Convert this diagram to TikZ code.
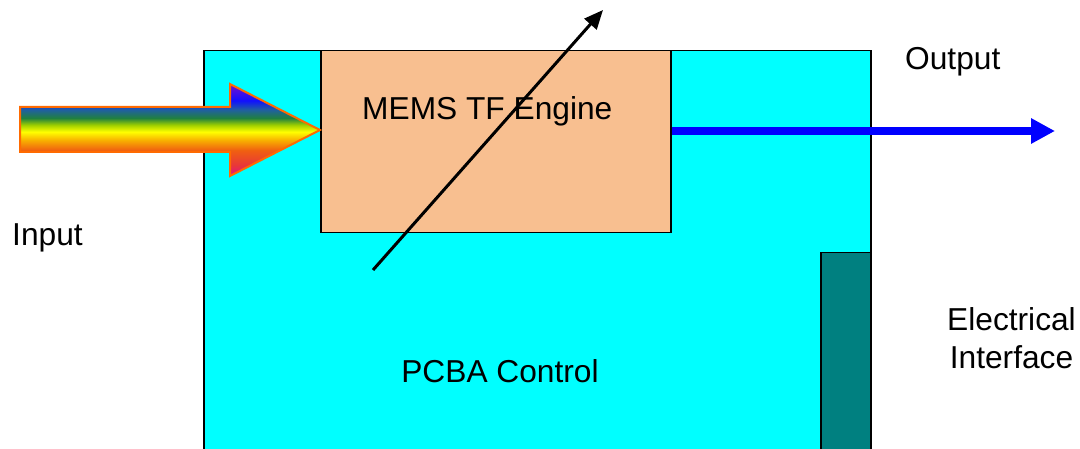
\documentclass[tikz,border=0pt]{standalone}
\usepackage{fontspec}
\setmainfont{Liberation Sans}
\usetikzlibrary{arrows.meta}
\definecolor{pcbacyan}{HTML}{00FFFF}
\definecolor{enginefill}{HTML}{F8BF90}
\definecolor{eiteal}{HTML}{008080}
\definecolor{rbmag}{HTML}{E0108A}
\definecolor{rbred}{HTML}{E83838}
\definecolor{rborange}{HTML}{F06010}
\definecolor{rbamber}{HTML}{F8B000}
\definecolor{rbyellow}{HTML}{FFFF00}
\definecolor{rbyg}{HTML}{A0D000}
\definecolor{rbgreen}{HTML}{208040}
\definecolor{rbteal}{HTML}{2060A0}
\definecolor{rbblue}{HTML}{1010FF}
\definecolor{rbpurple}{HTML}{7010D0}
\definecolor{rboutline}{HTML}{FF6A00}
\pgfdeclareverticalshading{rainbowv}{100bp}{color(0bp)=(rbmag); color(25bp)=(rbmag); color(31bp)=(rbred); color(39bp)=(rborange); color(44.5bp)=(rbamber); color(49bp)=(rbyellow); color(52.7bp)=(rbyg); color(56.5bp)=(rbgreen); color(61bp)=(rbteal); color(66bp)=(rbblue); color(74bp)=(rbpurple); color(100bp)=(rbpurple)}
\tikzset{
  lbl/.style={font=\fontsize{31.7}{38}\selectfont, inner sep=0pt, text=black},
  boxline/.style={draw=black, line width=1.5pt},
}
\begin{document}
\begin{tikzpicture}[x=1pt,y=-1pt]
\useasboundingbox (0,0) rectangle (1080,449);
\clip (0,0) rectangle (1080,449);
% PCBA board
\node[boxline, fill=pcbacyan, anchor=north west, minimum width=667pt, minimum height=460pt, inner sep=0pt] (pcba) at (203,50) {};
% Electrical interface connector
\node[boxline, fill=eiteal, anchor=north west, minimum width=50pt, minimum height=260pt, inner sep=0pt] (conn) at (820,252) {};
% Engine
\node[boxline, fill=enginefill, anchor=north west, minimum width=350pt, minimum height=182pt, inner sep=0pt] (engine) at (320,50) {};
% Rainbow input arrow
\path[shading=rainbowv, draw=rboutline, line width=2pt, line join=miter]
  (20,107) -- (230,107) -- (230,84) -- (320,130) -- (230,176) -- (230,152) -- (20,152) -- cycle;
% Labels
\node[lbl, anchor=base west] (tengine) at (362,120) {MEMS TF Engine};
\node[lbl, anchor=base west] (tinput) at (12,246) {Input};
\node[lbl, anchor=base west] (toutput) at (905,70) {Output};
\node[lbl, anchor=base] (tpcba) at (500,382) {PCBA Control};
\node[lbl, anchor=base, align=center] (telec) at (1011.5,368) {Electrical\\Interface};
% Tuning arrow
\coordinate (tunestart) at (373,270);
\coordinate (tuneend) at (603,10);
\draw[line width=3pt, -{Triangle[length=19pt,width=16pt]}] (tunestart) -- (tuneend);
% Output arrow
\coordinate (outstart) at (engine.east |- 0,131);
\coordinate (outend) at (1055,131);
\draw[blue, line width=7.5pt, -{Triangle[length=24pt,width=24pt]}] (outstart) -- (outend);
\end{tikzpicture}
\end{document}
